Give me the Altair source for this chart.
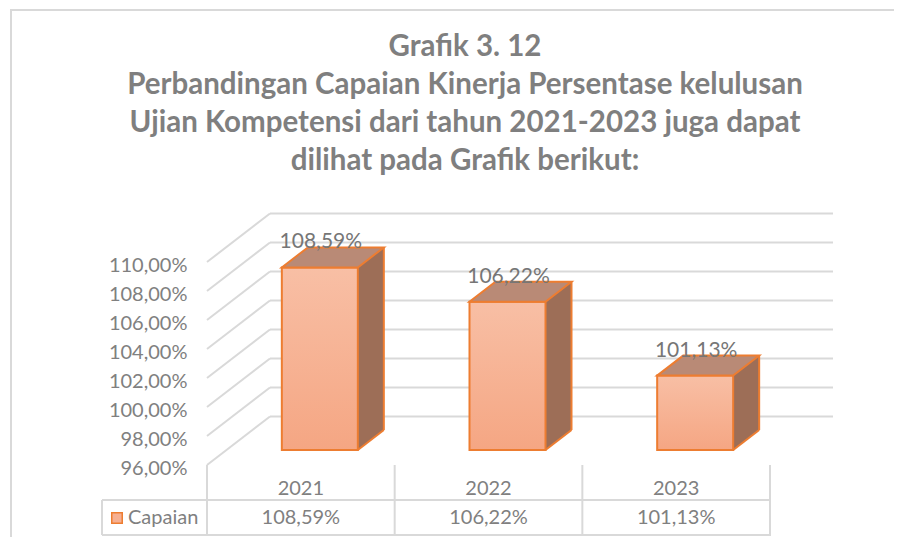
import altair as alt
import pandas as pd

# ---------------- data ----------------
years = ["2021", "2022", "2023"]
capaian = [108.59, 106.22, 101.13]
series_name = "Capaian"
y_ticks = [96, 98, 100, 102, 104, 106, 108, 110]
title_lines = [
    "Grafik 3. 12",
    "Perbandingan Capaian Kinerja Persentase kelulusan",
    "Ujian Kompetensi dari tahun 2021-2023 juga dapat",
    "dilihat pada Grafik berikut:",
]

# ---------------- layout / style ----------------
W, H = 563, 203
DX, DY = 63, -48.5          # depth of back wall
BX, BY = 19, -15            # depth of bar front plane
BAR_W = 76
SD_X, SD_Y = 26, -20        # bar depth
FONT = "Lato"
GRID = "#d9d9d9"
TXT = "#808080"
ORANGE = "#ed7d31"
SIDE = "#9d6e57"
TOP = "#b98a76"

df = pd.DataFrame({"year": years, "value": capaian, "series": series_name})
ticks_df = pd.DataFrame({"t": y_ticks})
one = pd.DataFrame({"series": [series_name]})

fmt = "replace(format(datum.value, '.2f'), '.', ',') + '%'"

xs = alt.Scale(domain=years, paddingInner=0, paddingOuter=0)
ys = alt.Scale(domain=[96, 110], nice=False, zero=False)

yaxis = alt.Axis(
    values=y_ticks, tickCount=len(y_ticks), labelExpr=fmt, labelOverlap=False,
    labelBound=False, domain=False, ticks=False, grid=False, labelPadding=20,
    labelOffset=3, labelFont=FONT, labelFontSize=20, labelColor=TXT, title=None)
xaxis = alt.Axis(
    orient="bottom", labelAngle=0, domain=False, ticks=False, grid=False,
    labelOverlap=False, labelPadding=23, labelBaseline="middle", labelFont=FONT,
    labelFontSize=20, labelColor=TXT, title=None)

X = alt.X("year:N", scale=xs, axis=xaxis)
Y = alt.Y("value:Q", scale=ys, axis=yaxis)
YT = alt.Y("t:Q", scale=ys, axis=yaxis)
Y96 = alt.Y(datum=96, scale=ys, axis=yaxis)
Y2_96 = alt.Y2(datum=96)

base = alt.Chart(df).transform_calculate(label=fmt)

# back wall grid
back = alt.Chart(ticks_df).mark_rule(
    color=GRID, strokeWidth=2, xOffset=DX, x2Offset=DX, yOffset=DY
).encode(x=alt.value(0), x2=alt.value(W), y=YT)
# left side wall
side_wall = alt.Chart(ticks_df).mark_rule(
    color=GRID, strokeWidth=2, x2Offset=DX, y2Offset=DY
).encode(x=alt.value(0), x2=alt.value(0), y=YT, y2="t:Q")

# bar side face
side = base.mark_bar(
    size=SD_X, xOffset=BX + BAR_W / 2 + SD_X / 2, yOffset=BY + SD_Y, y2Offset=BY + SD_Y,
    fill=SIDE, strokeWidth=0,
).encode(x=X, y=Y, y2=Y2_96)
side_tri = base.mark_point(
    shape=f"M0,0 L0,{SD_Y} L{SD_X},{SD_Y} Z", size=4, filled=True, fill=SIDE,
    opacity=1, fillOpacity=1, strokeWidth=0, xOffset=BX + BAR_W / 2, yOffset=BY,
).encode(x=X, y=Y96)
side_bottom = base.mark_point(
    shape=f"M0,0 L{SD_X},{SD_Y}", size=4, filled=False, stroke=ORANGE, strokeWidth=2,
    opacity=1, strokeOpacity=1, xOffset=BX + BAR_W / 2, yOffset=BY,
).encode(x=X, y=Y96)
side_right = base.mark_rule(
    color=ORANGE, strokeWidth=2, xOffset=BX + BAR_W / 2 + SD_X,
    yOffset=BY + SD_Y, y2Offset=BY + SD_Y,
).encode(x=X, y=Y, y2=Y2_96)

# bar front face
grad = alt.Gradient(
    gradient="linear",
    stops=[alt.GradientStop(color="#f5a683", offset=0),
           alt.GradientStop(color="#f8bfa5", offset=1)],
    x1=0, x2=0, y1=1, y2=0,
)
front = base.mark_bar(
    size=BAR_W, xOffset=BX, yOffset=BY, y2Offset=BY, fill=grad,
    stroke=ORANGE, strokeWidth=2,
).encode(x=X, y=Y, y2=Y2_96)
# bar top face
top = base.mark_point(
    shape=f"M{-BAR_W/2},0 L{BAR_W/2},0 L{BAR_W/2+SD_X},{SD_Y} L{-BAR_W/2+SD_X},{SD_Y} Z",
    size=4, filled=True, fill=TOP, stroke=ORANGE, strokeWidth=2,
    opacity=1, fillOpacity=1, strokeOpacity=1, xOffset=BX, yOffset=BY,
).encode(x=X, y=Y)

labels = base.mark_text(
    font=FONT, fontSize=21, color="#767676", xOffset=BX + 1, yOffset=BY - 25,
    align="center", baseline="middle",
).encode(x=X, y=Y, text="label:N")

# data table
row_vals = base.mark_text(
    font=FONT, fontSize=20, color=TXT, align="center", baseline="middle"
).encode(x=X, y=alt.value(256), text="label:N")
legend_sq = alt.Chart(one).mark_square(
    size=110, fill="#f6b092", stroke=ORANGE, strokeWidth=1.5, opacity=1
).encode(x=alt.value(-90), y=alt.value(256))
legend_txt = alt.Chart(one).mark_text(
    font=FONT, fontSize=20, color=TXT, align="left", baseline="middle"
).encode(x=alt.value(-79), y=alt.value(256), text="series:N")


def hline(y, x1, x2):
    return alt.Chart(one).mark_rule(color=GRID, strokeWidth=2).encode(
        x=alt.value(x1), x2=alt.value(x2), y=alt.value(y))


def vline(x, y1, y2):
    return alt.Chart(one).mark_rule(color=GRID, strokeWidth=2).encode(
        x=alt.value(x), y=alt.value(y1), y2=alt.value(y2))


dividers = base.mark_rule(color=GRID, strokeWidth=2).encode(
    x=alt.X("year:N", scale=xs, axis=xaxis, bandPosition=0),
    y=alt.value(H), y2=alt.value(273),
)

table_lines = [
    hline(238, -105, W + 1), hline(273, -105, W + 1),
    vline(-105, 238, 273), vline(W, H, 273),
]

border = [hline(-252, -197, 700), vline(-196, -252, 300)]

titles = [
    alt.Chart(one).mark_text(
        text=line, font=FONT, fontWeight="bold", fontSize=29.5, color="#7f7f7f",
        align="center", baseline="middle",
    ).encode(x=alt.value(258), y=alt.value(-215 + i * 38))
    for i, line in enumerate(title_lines)
]

chart = alt.layer(
    back, side_wall, side, side_tri, side_bottom, side_right, front, top, labels,
    row_vals, legend_sq, legend_txt, dividers, *table_lines, *border, *titles,
).properties(
    width=W, height=H,
    padding={"left": 199, "top": 254, "right": 124, "bottom": 72},
    autosize=alt.AutoSizeParams(type="none"),
).configure_view(stroke=None).configure_axis(labelOverlap=False)

chart.save("out.html", embed_options={"renderer": "svg", "actions": False})
